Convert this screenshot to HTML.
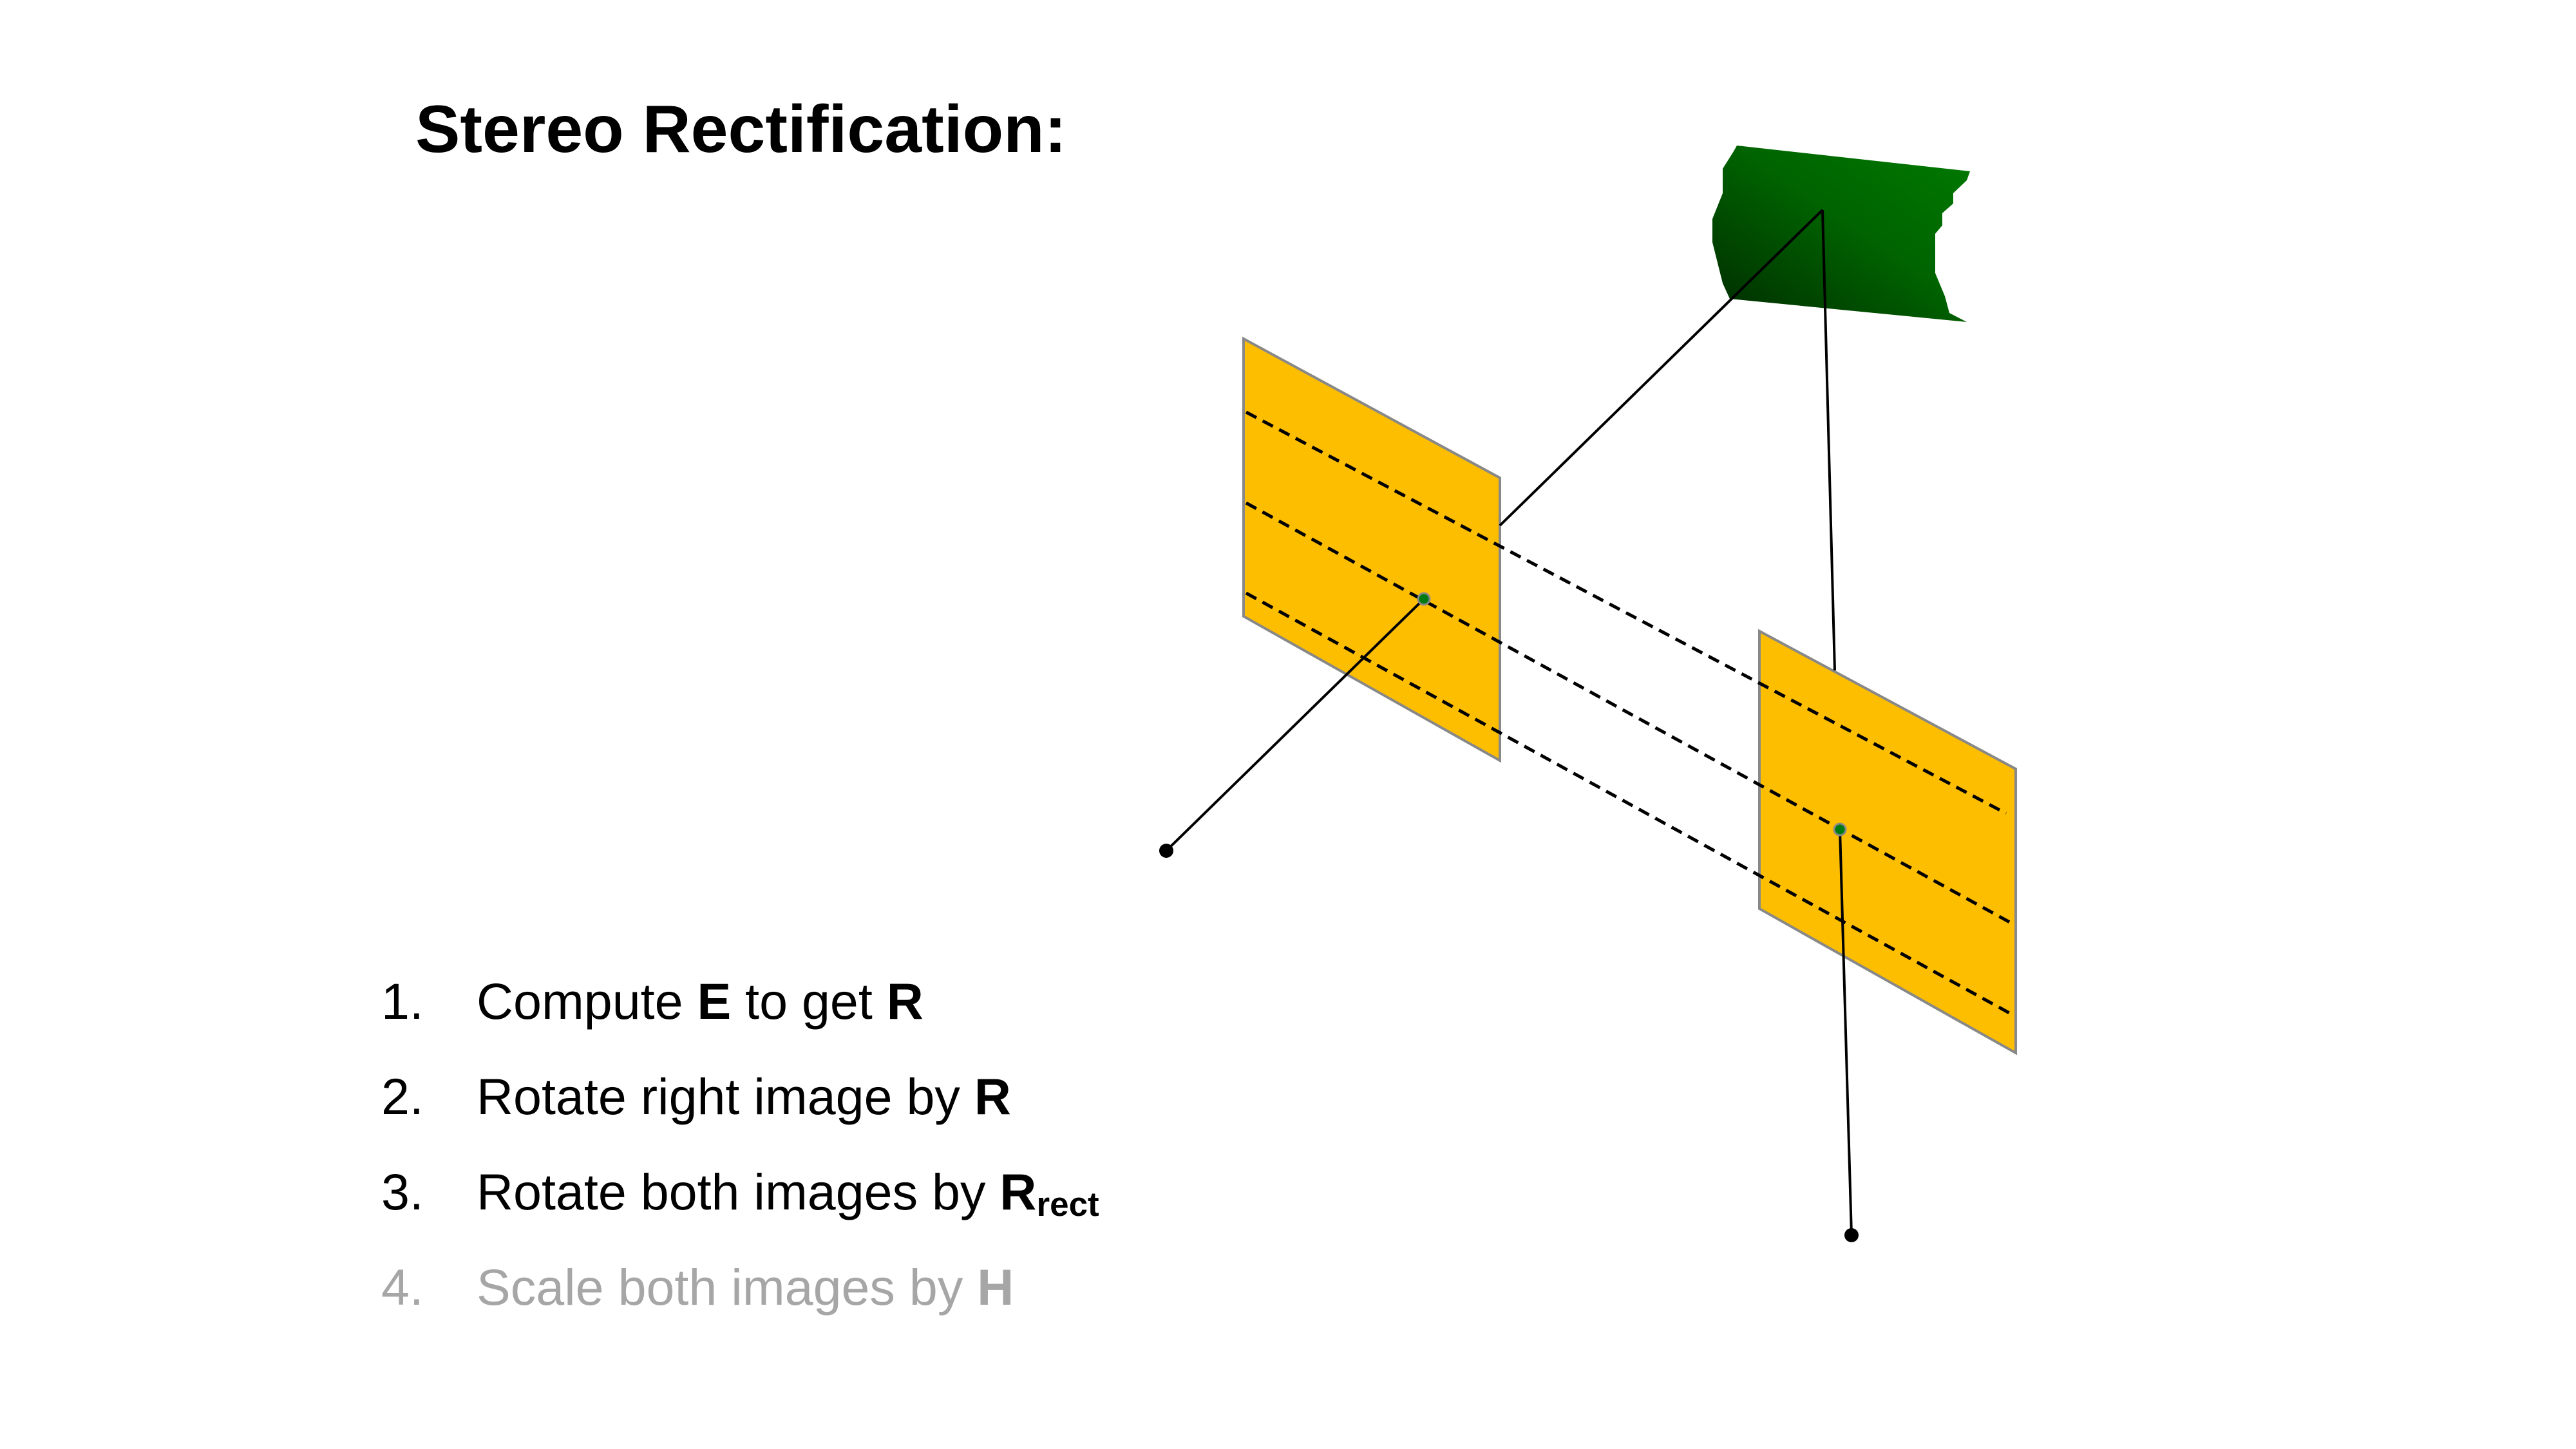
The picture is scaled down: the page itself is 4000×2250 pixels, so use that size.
<!DOCTYPE html>
<html><head><meta charset="utf-8"><style>
html,body{margin:0;padding:0;background:#fff;}
svg{display:block;}
</style></head><body>
<svg width="4000" height="2250" viewBox="0 0 4000 2250" xmlns="http://www.w3.org/2000/svg">
<defs>
<linearGradient id="gg" x1="0" y1="1" x2="1" y2="0">
<stop offset="0" stop-color="#002a00"/><stop offset="0.55" stop-color="#006400"/><stop offset="1" stop-color="#007a00"/>
</linearGradient>
</defs>
<text x="645" y="236" font-family="Liberation Sans, sans-serif" font-weight="bold" font-size="104" fill="#000">Stereo Rectification:</text>

<polygon fill="url(#gg)" points="2697,226 3059,266 3054,280 3033,300 3033,316 3016,331 3016,350 3005,363 3005,424 3020,460 3027,486 3054,500 2686,464 2675,440 2670,420 2665,400 2659,376 2659,340 2675,300 2675,262 2692,235"/>

<polygon points="1931,526 2329,742 2329,1181 1931,957" fill="#fdbe00" stroke="#888" stroke-width="4"/>
<polygon points="2732,980 3130,1194 3130,1635 2732,1411" fill="#fdbe00" stroke="#888" stroke-width="4"/>

<g stroke="#000" stroke-width="5" stroke-dasharray="18,11" fill="none">
<line x1="1935" y1="640" x2="3115" y2="1263"/>
<line x1="1935" y1="781" x2="3128" y2="1436"/>
<line x1="1935" y1="921" x2="3122" y2="1574"/>
</g>

<g stroke="#000" stroke-width="4" fill="none">
<line x1="2830" y1="326" x2="2329" y2="816"/>
<line x1="2830" y1="326" x2="2849" y2="1041"/>
<line x1="2211" y1="930" x2="1811" y2="1321"/>
<line x1="2857" y1="1288" x2="2875" y2="1918"/>
</g>
<circle cx="1811" cy="1321" r="11" fill="#000"/>
<circle cx="2875" cy="1918" r="11" fill="#000"/>
<circle cx="2211" cy="930" r="9" fill="#007a10" stroke="#888" stroke-width="3"/>
<circle cx="2857" cy="1288" r="9" fill="#007a10" stroke="#888" stroke-width="3"/>

<g font-family="Liberation Sans, sans-serif" font-size="79">
<g fill="#000"><text x="592" y="1582">1.</text><text x="740" y="1582">Compute <tspan font-weight="bold">E</tspan> to get <tspan font-weight="bold">R</tspan></text></g>
<g fill="#000"><text x="592" y="1730">2.</text><text x="740" y="1730">Rotate right image by <tspan font-weight="bold">R</tspan></text></g>
<g fill="#000"><text x="592" y="1878">3.</text><text x="740" y="1878">Rotate both images by <tspan font-weight="bold">R</tspan><tspan font-weight="bold" font-size="53" dy="10">rect</tspan></text></g>
<g fill="#a6a6a6"><text x="592" y="2026">4.</text><text x="740" y="2026">Scale both images by <tspan font-weight="bold">H</tspan></text></g>
</g>
</svg>
</body></html>
